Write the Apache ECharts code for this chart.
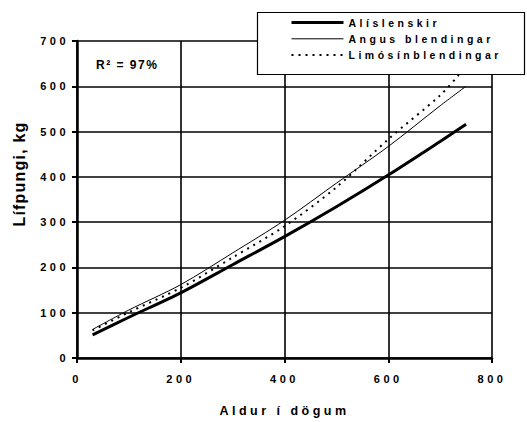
<!DOCTYPE html>
<html>
<head>
<meta charset="utf-8">
<script src="https://cdn.jsdelivr.net/npm/echarts@6/dist/echarts.min.js"></script>
<style>
  html, body { margin: 0; padding: 0; background: #fff; }
  #chart { width: 527px; height: 422px; }
  #chart text { letter-spacing: 3.5px; }
  #chart text[style*="16px"] { letter-spacing: 1.2px; }
  #chart text[style*="12px"] { letter-spacing: 1.5px; }
</style>
</head>
<body>
<div id="chart"></div>
<script>
// ---- data ----
const xTicks = [0, 200, 400, 600, 800];
const yTicks = [0, 100, 200, 300, 400, 500, 600, 700];

const seriesNames = ['Alíslenskir', 'Angus blendingar', 'Limósínblendingar'];

const agesIsl   = [30, 100, 200, 300, 400, 500, 600, 700, 750];
const weightIsl = [51, 90, 144, 206, 268, 334, 404, 478, 516];

const agesAngus   = [30, 100, 200, 300, 400, 500, 600, 700, 750];
const weightAngus = [63, 106, 162, 232, 304, 386, 467, 557, 600];

const agesLim   = [30, 100, 200, 300, 400, 500, 600, 700, 736];
const weightLim = [61, 101, 155, 222, 291, 377, 483, 580, 625];

const r2Text = 'R² = 97%';
const xTitle = 'Aldur í dögum';
const yTitle = 'Lífpungi, kg';

function pairs(xs, ys) { return xs.map((x, i) => [x, ys[i]]); }

const FONT = '"Liberation Sans", Arial, sans-serif';
const lineStyles = [
  { color: '#000', width: 3 },
  { color: '#000', width: 1 },
  { color: '#000', width: 2, type: [2, 5] }
];

const chart = echarts.init(document.getElementById('chart'), null, { renderer: 'svg' });

chart.setOption({
  animation: false,
  backgroundColor: '#fff',
  grid: { left: 77, right: 35, top: 41, bottom: 61.5 },
  xAxis: {
    type: 'value',
    min: xTicks[0],
    max: xTicks[xTicks.length - 1],
    interval: xTicks[1] - xTicks[0],
    name: xTitle,
    nameLocation: 'middle',
    nameGap: 46,
    nameTextStyle: { fontFamily: FONT, fontWeight: 'bold', fontSize: 12.5, color: '#000' },
    axisLine: { show: true, lineStyle: { color: '#000', width: 2.5 } },
    axisTick: { show: true, inside: false, length: 5, lineStyle: { color: '#000', width: 2 } },
    axisLabel: { margin: 15.5, fontFamily: FONT, fontWeight: 'bold', fontSize: 11, color: '#000' },
    splitLine: { show: true, lineStyle: { color: '#000', width: 1.6 } }
  },
  yAxis: {
    type: 'value',
    min: yTicks[0],
    max: yTicks[yTicks.length - 1],
    interval: yTicks[1] - yTicks[0],
    axisLine: { show: true, lineStyle: { color: '#000', width: 2.5 } },
    axisTick: { show: true, inside: false, length: 5, lineStyle: { color: '#000', width: 2 } },
    axisLabel: { margin: 8, fontFamily: FONT, fontWeight: 'bold', fontSize: 11, color: '#000' },
    splitLine: { show: true, lineStyle: { color: '#000', width: 1.6 } }
  },
  legend: {
    orient: 'vertical',
    left: 290,
    top: 17,
    padding: 0,
    itemWidth: 52,
    itemHeight: 14,
    itemGap: 5,
    z: 20,
    itemStyle: { color: 'rgba(0,0,0,0)', borderColor: 'rgba(0,0,0,0)', borderWidth: 0, opacity: 0 },
    textStyle: { fontFamily: FONT, fontWeight: 'bold', fontSize: 10.5, color: '#000' },
    data: seriesNames.map((n, i) => ({ name: n, lineStyle: lineStyles[i] }))
  },
  graphic: [
    {
      type: 'rect',
      z: 15,
      shape: { x: 257.5, y: 12.5, width: 267, height: 62 },
      style: { fill: '#fff', stroke: '#000', lineWidth: 1.2 }
    },
    {
      type: 'text',
      z: 15,
      x: 96,
      y: 65,
      style: { text: r2Text, fontFamily: FONT, fontWeight: 'bold', fontSize: 12, fill: '#000', textAlign: 'left', textVerticalAlign: 'middle' }
    },
    {
      type: 'text',
      z: 15,
      x: 19,
      y: 174,
      rotation: Math.PI / 2,
      style: { text: yTitle, fontFamily: FONT, fontWeight: 'bold', fontSize: 16, fill: '#000', textAlign: 'center', textVerticalAlign: 'middle' }
    }
  ],
  series: seriesNames.map((n, i) => ({
    name: n,
    type: 'line',
    smooth: 0.3,
    symbol: 'none',
    data: [pairs(agesIsl, weightIsl), pairs(agesAngus, weightAngus), pairs(agesLim, weightLim)][i],
    lineStyle: lineStyles[i],
    itemStyle: { color: '#000' }
  }))
});
</script>
</body>
</html>
